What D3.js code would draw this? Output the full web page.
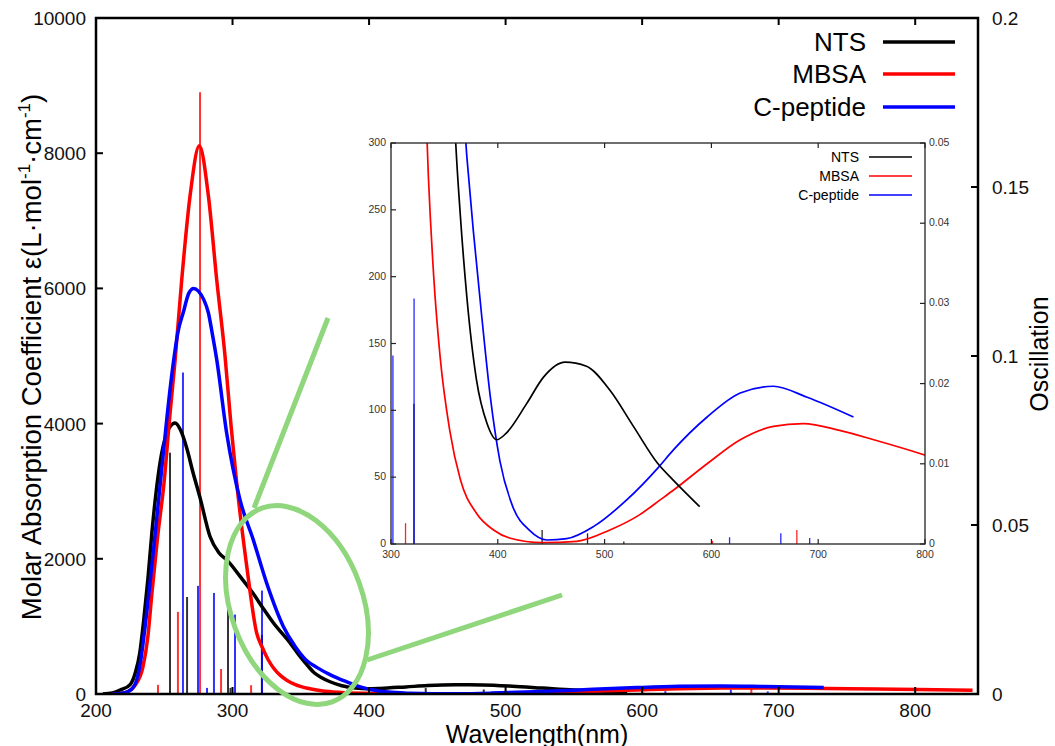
<!DOCTYPE html>
<html>
<head>
<meta charset="utf-8">
<script src="https://cdn.jsdelivr.net/npm/d3@7"></script>
<style>
  html, body { margin: 0; padding: 0; background: #fff; }
  svg { display: block; font-family: "Liberation Sans", Arial, Helvetica, sans-serif; }
</style>
</head>
<body>
<svg id="chart" width="1055" height="746"></svg>
<script>
// ---------- DATA ----------
const seriesNames = ["NTS", "MBSA", "C-peptide"];
const seriesColors = ["#000000", "#ff0000", "#0000ff"];

// absorption spectra: [wavelength nm, epsilon L/mol/cm]
const ntsCurve = [[205,0],[212,15],[218,60],[225,140],[229,330],[232,600],[235,1100],[238,1700],[241,2400],[244.7,3100],[248,3550],[251,3800],[254,3950],[258,4010],[262,3900],[266.7,3620],[271,3280],[276,2920],[283.5,2330],[290,2090],[296,1980],[305.5,1740],[315,1490],[322,1280],[330,1050],[342,760],[350,540],[355,420],[360,310],[365,245],[371,185],[380,123],[390,90],[399,78],[408,83],[427,105],[443,125],[463,136],[483,133],[505,115],[527,88],[550,60],[564,48],[589,28]];
const mbsaCurve = [[212,0],[218,8],[224,40],[229,140],[234.4,400],[238,850],[241,1500],[245,2300],[249.8,3120],[254,4100],[258,4950],[262.8,6130],[268.9,7370],[275.7,8110],[282.3,7370],[288.4,6130],[294.5,5000],[299,3950],[303,3130],[310.4,1890],[317.7,900],[322,680],[326,510],[330,385],[335,275],[340,200],[346,140],[355,85],[365,48],[380,23],[396,10.5],[411,4.5],[442,1],[474,2],[505,10.5],[533,22],[552,33],[564,40],[596,60],[627,78],[658,88],[686,90],[720,85],[752,78],[802,66],[842,55]];
const cpepCurve = [[212,0],[218,8],[223,30],[228,120],[232,400],[236,1000],[239.6,1650],[244,2500],[248,3300],[252,4100],[256,4800],[260,5350],[264,5650],[268,5930],[271.5,6000],[275,5960],[279,5830],[282.3,5640],[285,5350],[288.4,4950],[295.7,3860],[305.5,2870],[315.2,2280],[325,1640],[337.2,1000],[346,700],[354,500],[362,390],[371,290],[377,235],[385,170],[393,110],[402,62],[414,28],[430,10],[446,3],[464.5,4],[489.5,13],[520.7,33],[550,57],[564,70],[596,95],[627,113],[658,118],[689,110],[733,95]];
const curves = [ntsCurve, mbsaCurve, cpepCurve];

// oscillator strengths: [wavelength nm, f]
const ntsSticks = [[254.2,0.0714],[266.7,0.0287],[296.7,0.0279],[298.5,0.0018],[321.5,0.0175],[441.5,0.00175],[484,0.00133],[518,0.0003]];
const mbsaSticks = [[245.4,0.0027],[260,0.0243],[276.2,0.178],[291.6,0.0074],[313.6,0.0026],[601,0.0004],[680,0.00175]];
const cpepSticks = [[263.7,0.0951],[274.7,0.032],[281.3,0.0018],[286.4,0.0299],[301.8,0.0235],[321.6,0.0306],[617,0.00084],[665,0.00133],[692,0.00075]];
const sticks = [ntsSticks, mbsaSticks, cpepSticks];

// ticks
const mainXTicks = [200, 300, 400, 500, 600, 700, 800];
const mainYTicks = [0, 2000, 4000, 6000, 8000, 10000];
const mainOscTicks = [0, 0.05, 0.1, 0.15, 0.2];
const insetXTicks = [300, 400, 500, 600, 700, 800];
const insetYTicks = [0, 50, 100, 150, 200, 250, 300];
const insetOscTicks = [0, 0.01, 0.02, 0.03, 0.04, 0.05];

// ---------- DRAW ----------
const svg = d3.select("#chart");

const x = d3.scaleLinear().domain([200, 846]).range([96, 978]);
const y = d3.scaleLinear().domain([0, 10000]).range([694, 18]);
const yOsc = d3.scaleLinear().domain([0, 0.2]).range([694, 18]);

const xi = d3.scaleLinear().domain([300, 800]).range([391, 925]);
const yi = d3.scaleLinear().domain([0, 300]).range([544, 143]);
const yiOsc = d3.scaleLinear().domain([0, 0.05]).range([544, 143]);

const defs = svg.append("defs");
defs.append("clipPath").attr("id", "mainClip").append("rect")
  .attr("x", x(200)).attr("y", y(10000)).attr("width", x(846) - x(200)).attr("height", y(0) - y(10000));
defs.append("clipPath").attr("id", "insetClip").append("rect")
  .attr("x", xi(300)).attr("y", yi(300)).attr("width", xi(800) - xi(300)).attr("height", yi(0) - yi(300));

// main sticks
const gMain = svg.append("g").attr("clip-path", "url(#mainClip)");
sticks.forEach((s, i) => {
  gMain.selectAll(null).data(s).enter().append("line")
    .attr("x1", d => x(d[0])).attr("x2", d => x(d[0]))
    .attr("y1", yOsc(0)).attr("y2", d => yOsc(d[1]))
    .attr("stroke", seriesColors[i]).attr("stroke-width", 2).attr("stroke-opacity", 0.8);
});
// main curves
const lineMain = d3.line().x(d => x(d[0])).y(d => y(d[1])).curve(d3.curveMonotoneX);
[0, 1, 2].forEach(i => {
  gMain.append("path").datum(curves[i]).attr("d", lineMain)
    .attr("fill", "none").attr("stroke", seriesColors[i]).attr("stroke-width", 3.5)
    .attr("stroke-linejoin", "round");
});

// main axes
const tickLen = 7;
const axisG = svg.append("g").attr("stroke", "#000");
axisG.append("rect").attr("x", x(200)).attr("y", y(10000))
  .attr("width", x(846) - x(200)).attr("height", y(0) - y(10000))
  .attr("fill", "none").attr("stroke-width", 2.5);
mainXTicks.forEach(t => {
  axisG.append("line").attr("x1", x(t)).attr("x2", x(t)).attr("y1", y(0)).attr("y2", y(0) - tickLen).attr("stroke-width", 2);
  axisG.append("line").attr("x1", x(t)).attr("x2", x(t)).attr("y1", y(10000)).attr("y2", y(10000) + tickLen).attr("stroke-width", 2);
});
mainYTicks.forEach(t => {
  axisG.append("line").attr("x1", x(200)).attr("x2", x(200) + tickLen).attr("y1", y(t)).attr("y2", y(t)).attr("stroke-width", 2);
});
mainOscTicks.forEach(t => {
  axisG.append("line").attr("x1", x(846)).attr("x2", x(846) - tickLen).attr("y1", yOsc(t)).attr("y2", yOsc(t)).attr("stroke-width", 2);
});

const labG = svg.append("g").attr("fill", "#111").attr("font-size", 19);
labG.selectAll(null).data(mainXTicks).enter().append("text")
  .attr("x", d => x(d)).attr("y", 717).attr("text-anchor", "middle").text(d => d);
labG.selectAll(null).data(mainYTicks).enter().append("text")
  .attr("x", 86).attr("y", d => y(d) + 7).attr("text-anchor", "end").text(d => d);
labG.selectAll(null).data(mainOscTicks).enter().append("text")
  .attr("x", 992).attr("y", d => yOsc(d) + 7).attr("text-anchor", "start").text(d => d);

// axis titles
svg.append("text").attr("x", 537).attr("y", 743).attr("text-anchor", "middle")
  .attr("font-size", 25).attr("fill", "#000").text("Wavelength(nm)");
svg.append("text").attr("transform", "translate(1048,354) rotate(-90)").attr("text-anchor", "middle")
  .attr("font-size", 25).attr("fill", "#000").text("Oscillation");
const yt = svg.append("text").attr("transform", "translate(41,357) rotate(-90)").attr("text-anchor", "middle")
  .attr("font-size", 27.5).attr("fill", "#000");
yt.append("tspan").text("Molar Absorption Coefficient ε(L·mol");
yt.append("tspan").attr("dy", -11).attr("font-size", 17).text("-1");
yt.append("tspan").attr("dy", 11).text("·cm");
yt.append("tspan").attr("dy", -11).attr("font-size", 17).text("-1");
yt.append("tspan").attr("dy", 11).text(")");

// main legend
const legY = [42, 74, 107];
seriesNames.forEach((n, i) => {
  svg.append("text").attr("x", 866).attr("y", legY[i] + 9).attr("text-anchor", "end")
    .attr("font-size", 26).attr("fill", "#000").text(n);
  svg.append("line").attr("x1", 883).attr("x2", 955).attr("y1", legY[i]).attr("y2", legY[i])
    .attr("stroke", seriesColors[i]).attr("stroke-width", 3.5);
});

// ---------- INSET ----------
const gi = svg.append("g");
gi.append("rect").attr("x", xi(300)).attr("y", yi(300)).attr("width", xi(800) - xi(300))
  .attr("height", yi(0) - yi(300)).attr("fill", "#fff");
const giClip = gi.append("g").attr("clip-path", "url(#insetClip)");
sticks.forEach((s, i) => {
  giClip.selectAll(null).data(s).enter().append("line")
    .attr("x1", d => xi(d[0])).attr("x2", d => xi(d[0]))
    .attr("y1", yiOsc(0)).attr("y2", d => yiOsc(d[1]))
    .attr("stroke", seriesColors[i]).attr("stroke-width", 1.3).attr("stroke-opacity", 0.85);
});
const lineInset = d3.line().x(d => xi(d[0])).y(d => yi(d[1])).curve(d3.curveMonotoneX);
[1, 2, 0].forEach(i => {
  giClip.append("path").datum(curves[i]).attr("d", lineInset)
    .attr("fill", "none").attr("stroke", seriesColors[i]).attr("stroke-width", 1.7);
});
gi.append("rect").attr("x", xi(300)).attr("y", yi(300)).attr("width", xi(800) - xi(300))
  .attr("height", yi(0) - yi(300)).attr("fill", "none").attr("stroke", "#222").attr("stroke-width", 1.3);
const itl = 5;
insetXTicks.forEach(t => {
  gi.append("line").attr("x1", xi(t)).attr("x2", xi(t)).attr("y1", yi(0)).attr("y2", yi(0) - itl).attr("stroke", "#222").attr("stroke-width", 1.2);
  gi.append("line").attr("x1", xi(t)).attr("x2", xi(t)).attr("y1", yi(300)).attr("y2", yi(300) + itl).attr("stroke", "#222").attr("stroke-width", 1.2);
});
insetYTicks.forEach(t => {
  gi.append("line").attr("x1", xi(300)).attr("x2", xi(300) + itl).attr("y1", yi(t)).attr("y2", yi(t)).attr("stroke", "#222").attr("stroke-width", 1.2);
});
insetOscTicks.forEach(t => {
  gi.append("line").attr("x1", xi(800)).attr("x2", xi(800) - itl).attr("y1", yiOsc(t)).attr("y2", yiOsc(t)).attr("stroke", "#222").attr("stroke-width", 1.2);
});
const il = gi.append("g").attr("font-size", 10.5).attr("fill", "#333");
il.selectAll(null).data(insetXTicks).enter().append("text")
  .attr("x", d => xi(d)).attr("y", 558).attr("text-anchor", "middle").text(d => d);
il.selectAll(null).data(insetYTicks).enter().append("text")
  .attr("x", 386).attr("y", d => yi(d) + 3).attr("text-anchor", "end").text(d => d);
il.selectAll(null).data(insetOscTicks).enter().append("text")
  .attr("x", 929).attr("y", d => yiOsc(d) + 3).attr("text-anchor", "start").text(d => d);

const ilegY = [157, 176, 195];
seriesNames.forEach((n, i) => {
  gi.append("text").attr("x", 859).attr("y", ilegY[i] + 5).attr("text-anchor", "end")
    .attr("font-size", 14).attr("fill", "#000").text(n);
  gi.append("line").attr("x1", 869).attr("x2", 912).attr("y1", ilegY[i]).attr("y2", ilegY[i])
    .attr("stroke", seriesColors[i]).attr("stroke-width", 1.6);
});

// ---------- GREEN ANNOTATION ----------
const green = "#8fd67c";
svg.append("ellipse").attr("cx", 297).attr("cy", 605).attr("rx", 66).attr("ry", 103)
  .attr("transform", "rotate(-20,297,605)")
  .attr("fill", "none").attr("stroke", green).attr("stroke-width", 5);
svg.append("line").attr("x1", 254).attr("y1", 508).attr("x2", 328).attr("y2", 318)
  .attr("stroke", green).attr("stroke-width", 5);
svg.append("line").attr("x1", 367).attr("y1", 660).attr("x2", 562).attr("y2", 595)
  .attr("stroke", green).attr("stroke-width", 5);
</script>
</body>
</html>
